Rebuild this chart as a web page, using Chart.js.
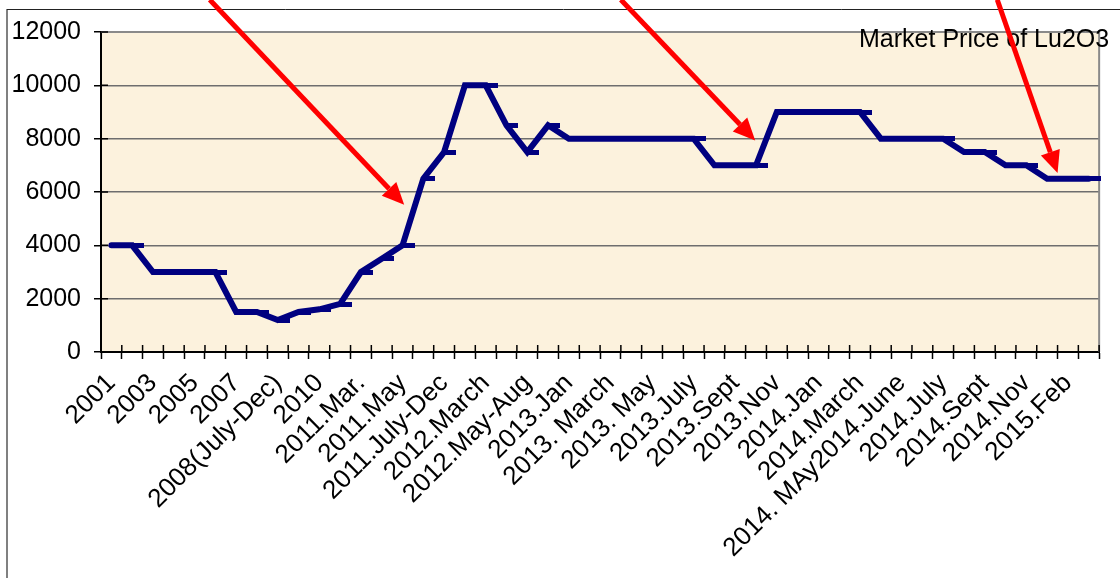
<!DOCTYPE html>
<html>
<head>
<meta charset="utf-8">
<title>Market Price of Lu2O3</title>
<script src="https://cdn.jsdelivr.net/npm/chart.js@4.4.0/dist/chart.umd.min.js"></script>
<style>
  html, body { margin: 0; padding: 0; background: #fff; }
</style>
</head>
<body>
<canvas id="luChart" width="1120" height="578"></canvas>
<script>
const canvas = document.getElementById('luChart')

// categories: only every other one carries a label on the axis
const categories = [
  '2001', '', '2003', '', '2005', '', '2007', '', '2008(July-Dec)', '', '2010', '',
  '2011.Mar.', '', '2011.May', '', '2011.July-Dec', '', '2012.March', '', '2012.May-Aug', '',
  '2013.Jan', '', '2013. March', '', '2013. May', '', '2013.July', '', '2013.Sept', '',
  '2013.Nov', '', '2014.Jan', '', '2014.March', '', '2014. MAy2014.June', '', '2014.July', '',
  '2014.Sept', '', '2014.Nov', '', '2015.Feb', ''
]

// price of Lu2O3
const prices = [
  4000, 4000, 3000, 3000, 3000, 3000, 1500, 1500, 1200, 1500, 1600, 1800,
  3000, 3500, 4000, 6500, 7500, 10000, 10000, 8500, 7500, 8500, 8000, 8000,
  8000, 8000, 8000, 8000, 8000, 7000, 7000, 7000, 9000, 9000, 9000, 9000,
  9000, 8000, 8000, 8000, 8000, 7500, 7500, 7000, 7000, 6500, 6500, 6500
]

const yMin = 0
const yMax = 12000
const yStep = 2000

const title = 'Market Price of Lu2O3'

// red call-out arrows, given as [category index, price] for tail and tip
const arrows = [
  { from: [4.73, 13210], to: [14.08, 5520] },
  { from: [24.5, 13210], to: [30.96, 7935] },
  { from: [42.6, 13210], to: [45.5, 6712] }
]

const font = 'Arial, "Liberation Sans", sans-serif'
const navy = '#000080'

// dash marker that sits on the right of each point
const dash = document.createElement('canvas')
dash.width = 24
dash.height = 5
const dctx = dash.getContext('2d')
dctx.fillStyle = navy
dctx.fillRect(12, 0, 12, 5)

function drawArrow(ctx, x0, y0, x1, y1) {
  const ang = Math.atan2(y1 - y0, x1 - x0)
  const head = 22
  const half = 10
  const bx = x1 - head * Math.cos(ang)
  const by = y1 - head * Math.sin(ang)
  ctx.beginPath()
  ctx.moveTo(x0, y0)
  ctx.lineTo(bx, by)
  ctx.stroke()
  ctx.beginPath()
  ctx.moveTo(x1, y1)
  ctx.lineTo(bx + half * Math.sin(ang), by - half * Math.cos(ang))
  ctx.lineTo(bx - half * Math.sin(ang), by + half * Math.cos(ang))
  ctx.closePath()
  ctx.fill()
}

const decor = {
  id: 'decor',
  beforeDraw(chart) {
    const { ctx, chartArea: a } = chart
    ctx.save()
    // outer frame
    ctx.strokeStyle = '#808080'
    ctx.lineWidth = 2
    ctx.beginPath()
    ctx.moveTo(7, chart.height)
    ctx.lineTo(7, 9)
    ctx.stroke()
    ctx.strokeStyle = '#222'
    ctx.lineWidth = 1
    ctx.beginPath()
    ctx.moveTo(7, 9.5)
    ctx.lineTo(chart.width, 9.5)
    ctx.stroke()
    // plot area fill
    ctx.fillStyle = '#fcf2dd'
    ctx.fillRect(a.left, a.top, a.width, a.height)
    ctx.restore()
  },
  beforeDatasetsDraw(chart) {
    const { ctx, chartArea: a, scales } = chart
    ctx.save()
    // plot area border, top and right
    ctx.strokeStyle = '#8a8a8a'
    ctx.lineWidth = 2
    ctx.beginPath()
    ctx.moveTo(a.left, a.top)
    ctx.lineTo(a.right, a.top)
    ctx.lineTo(a.right, a.bottom)
    ctx.stroke()
    // tick marks crossing into the plot
    ctx.strokeStyle = '#000'
    ctx.lineWidth = 1.5
    ctx.beginPath()
    for (const t of scales.y.ticks) {
      const y = scales.y.getPixelForValue(t.value)
      ctx.moveTo(a.left, y)
      ctx.lineTo(a.left + 7, y)
    }
    for (let k = 0; k <= categories.length; k++) {
      const x = scales.x.getPixelForValue(k - 0.5)
      ctx.moveTo(x, a.bottom)
      ctx.lineTo(x, a.bottom - 7)
    }
    ctx.stroke()
    ctx.restore()
  },
  afterDraw(chart) {
    const { ctx, chartArea: a, scales } = chart
    ctx.save()
    ctx.fillStyle = '#000'
    ctx.font = '25px ' + font
    ctx.textAlign = 'right'
    ctx.textBaseline = 'alphabetic'
    ctx.fillText(title, a.right + 10, a.top + 15)

    ctx.strokeStyle = '#ff0000'
    ctx.fillStyle = '#ff0000'
    ctx.lineWidth = 5
    for (const arr of arrows) {
      drawArrow(ctx,
        scales.x.getPixelForValue(arr.from[0]), scales.y.getPixelForValue(arr.from[1]),
        scales.x.getPixelForValue(arr.to[0]), scales.y.getPixelForValue(arr.to[1]))
    }
    ctx.restore()
  }
}

const luChart = new Chart(canvas, {
  type: 'line',
  data: {
    labels: categories,
    datasets: [{
      label: title,
      data: prices,
      borderColor: navy,
      borderWidth: 6,
      borderCapStyle: 'round',
      pointStyle: dash,
      pointRadius: 12,
      pointHoverRadius: 12,
      tension: 0,
      fill: false,
      clip: false
    }]
  },
  options: {
    responsive: false,
    animation: false,
    events: [],
    layout: { padding: { top: 32, right: 15, left: 0, bottom: 0 } },
    plugins: {
      legend: { display: false },
      tooltip: { enabled: false }
    },
    scales: {
      x: {
        type: 'category',
        offset: true,
        afterFit: (scale) => { scale.height = 226 },
        grid: {
          display: true,
          offset: true,
          drawOnChartArea: false,
          drawTicks: true,
          tickLength: 7,
          tickColor: '#000',
          tickWidth: 1.5
        },
        border: { display: true, color: '#000', width: 2 },
        ticks: {
          autoSkip: false,
          minRotation: 45,
          maxRotation: 45,
          padding: 9,
          color: '#000',
          font: { family: font, size: 26 }
        }
      },
      y: {
        min: yMin,
        max: yMax,
        afterFit: (scale) => { scale.width = 101 },
        grid: {
          color: '#6e6e6e',
          lineWidth: 1.5,
          tickLength: 7,
          tickColor: '#000',
          tickWidth: 1.5
        },
        border: { display: true, color: '#000', width: 2 },
        ticks: {
          stepSize: yStep,
          padding: 13,
          color: '#000',
          font: { family: font, size: 25 },
          callback: (v) => String(v)
        }
      }
    }
  },
  plugins: [decor]
})
</script>
</body>
</html>
